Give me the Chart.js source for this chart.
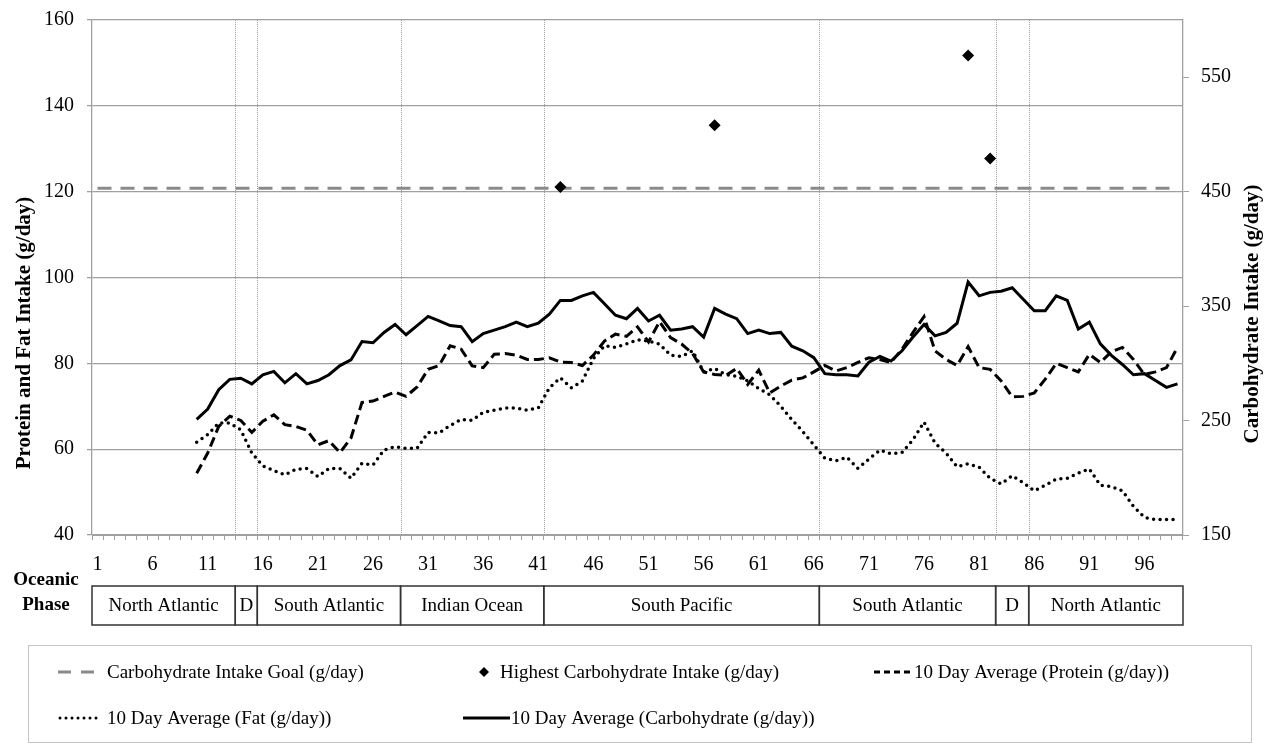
<!DOCTYPE html>
<html>
<head>
<meta charset="utf-8">
<title>Intake by oceanic phase</title>
<script src="https://cdn.jsdelivr.net/npm/chart.js@4.4.1/dist/chart.umd.min.js"></script>
<style>
  html, body { margin: 0; padding: 0; background: #fff; }
  #box { width: 1264px; height: 744px; }
</style>
</head>
<body>
<div id="box"><canvas id="intakeChart" width="1264" height="744"></canvas></div>
<script>
// ---------------- Data ----------------
const days = [
    1, 2, 3, 4, 5, 6, 7, 8, 9, 10, 11, 12, 13, 14, 15, 16, 17, 18, 19, 20,
    21, 22, 23, 24, 25, 26, 27, 28, 29, 30, 31, 32, 33, 34, 35, 36, 37, 38, 39, 40,
    41, 42, 43, 44, 45, 46, 47, 48, 49, 50, 51, 52, 53, 54, 55, 56, 57, 58, 59, 60,
    61, 62, 63, 64, 65, 66, 67, 68, 69, 70, 71, 72, 73, 74, 75, 76, 77, 78, 79, 80,
    81, 82, 83, 84, 85, 86, 87, 88, 89, 90, 91, 92, 93, 94, 95, 96, 97, 98, 99
];
const dayTickLabels = [1, 6, 11, 16, 21, 26, 31, 36, 41, 46, 51, 56, 61, 66, 71, 76, 81, 86, 91, 96];
const carbTicks = [150, 250, 350, 450, 550];

// 10 day averages, g/day (first nine days have no average yet)
const proteinAvg = [
    null, null, null, null, null, null, null, null, null,
    54.4, 59.1, 65.3, 67.7, 66.7, 63.9, 66.5, 68.0, 65.7, 65.3,
    64.4, 61.0, 62.0, 59.2, 62.6, 70.9, 71.2, 72.3, 73.3, 72.3,
    74.5, 78.6, 79.5, 84.1, 83.3, 79.4, 79.0, 82.1, 82.3, 81.9,
    80.9, 80.9, 81.3, 80.3, 80.2, 79.5, 81.9, 85.2, 86.8, 86.3,
    88.5, 85.0, 89.7, 86.0, 84.5, 82.3, 78.0, 77.4, 77.2, 78.8,
    75.1, 78.4, 73.1, 74.7, 76.1, 76.6, 78.0, 79.5, 78.2, 79.0,
    80.2, 81.3, 80.9, 80.2, 83.3, 87.2, 90.9, 82.9, 80.9, 79.5,
    83.9, 79.0, 78.6, 75.9, 72.2, 72.3, 73.1, 76.3, 80.0, 79.0,
    78.0, 82.1, 80.2, 82.7, 83.7, 80.9, 77.4, 78.0, 79.0, 83.7
];
const fatAvg = [
    null, null, null, null, null, null, null, null, null,
    61.6, 63.4, 66.1, 66.1, 64.5, 59.1, 56.1, 55.0, 54.0, 55.3,
    55.5, 53.6, 55.5, 55.5, 53.2, 56.7, 56.3, 59.8, 60.6, 60.2,
    60.2, 63.9, 63.8, 65.5, 66.9, 66.7, 68.6, 69.1, 69.6, 69.6,
    69.1, 69.6, 74.3, 76.6, 74.3, 75.9, 81.1, 84.1, 83.7, 84.5,
    85.5, 85.2, 84.5, 81.9, 81.6, 82.9, 78.0, 78.8, 77.4, 77.0,
    75.9, 74.1, 72.7, 70.0, 66.9, 64.1, 61.0, 57.9, 57.3, 58.1,
    55.5, 57.7, 59.8, 58.9, 59.2, 62.2, 66.3, 61.4, 59.1, 55.9,
    56.6, 55.8, 53.2, 51.9, 53.8, 52.2, 50.3, 51.6, 53.0, 53.2,
    54.4, 55.4, 51.6, 51.3, 50.3, 46.7, 44.1, 43.6, 43.6, 43.6
];
const carbAvg = [
    null, null, null, null, null, null, null, null, null,
    251, 260, 277, 286, 287, 282, 290, 293, 283, 291,
    282, 285, 290, 298, 303, 319, 318, 327, 334, 325,
    333, 341, 337, 333, 332, 319, 326, 329, 332, 336,
    332, 335, 343, 355, 355, 359, 362, 352, 342, 339,
    348, 337, 342, 329, 330, 332, 323, 348, 343, 339,
    326, 329, 326, 327, 315, 311, 305, 291, 290, 290,
    289, 301, 306, 302, 311, 323, 334, 324, 327, 335,
    371, 359, 362, 363, 366, 356, 346, 346, 359, 355,
    330, 336, 317, 307, 299, 290, 291, 285, 279, 282
];

const carbGoal = 453;
const highestDays = [43, 57, 80, 82];
const highestCarb = [454, 508, 569, 479];

const phaseNames = ["North Atlantic", "D", "South Atlantic", "Indian Ocean", "South Pacific", "South Atlantic", "D", "North Atlantic"];
const phaseStartDays = [1, 14, 16, 29, 42, 67, 83, 86];
const lastDay = 99;

// ---------------- Styles ----------------
const FONT = '"Liberation Serif", "Times New Roman", serif';
const GRID = "#a0a0a0";

Chart.defaults.font.family = FONT;
Chart.defaults.color = "#000";

const goalData = days.map(() => carbGoal);
const highestData = days.map(d => {
    const k = highestDays.indexOf(d);
    return k === -1 ? null : highestCarb[k];
});

// sample strokes for the legend box, same look as the lines
function drawSample(ctx, kind, x0, x1, y) {
    ctx.save();
    ctx.beginPath();
    if (kind === "diamond") {
        const r = 5;
        ctx.fillStyle = "#000";
        ctx.moveTo(x0, y - r); ctx.lineTo(x0 + r, y); ctx.lineTo(x0, y + r); ctx.lineTo(x0 - r, y);
        ctx.closePath();
        ctx.fill();
        ctx.restore();
        return;
    }
    if (kind === "goal") { ctx.strokeStyle = "#8a8a8a"; ctx.lineWidth = 3; ctx.setLineDash([13, 10]); }
    if (kind === "protein") { ctx.strokeStyle = "#000"; ctx.lineWidth = 3; ctx.setLineDash([6, 4]); }
    if (kind === "fat") { ctx.strokeStyle = "#000"; ctx.lineWidth = 3; ctx.lineCap = "round"; ctx.setLineDash([0, 6]); }
    if (kind === "carb") { ctx.strokeStyle = "#000"; ctx.lineWidth = 3; }
    ctx.moveTo(x0, y);
    ctx.lineTo(x1, y);
    ctx.stroke();
    ctx.restore();
}

const legendItems = [
    { kind: "goal", text: "Carbohydrate Intake Goal (g/day)", x0: 58, x1: 95, tx: 107, y: 672 },
    { kind: "diamond", text: "Highest Carbohydrate Intake (g/day)", x0: 484, x1: 484, tx: 500, y: 672 },
    { kind: "protein", text: "10 Day Average (Protein (g/day))", x0: 874, x1: 912, tx: 914, y: 672 },
    { kind: "fat", text: "10 Day Average (Fat (g/day))", x0: 60, x1: 102, tx: 107, y: 718 },
    { kind: "carb", text: "10 Day Average (Carbohydrate (g/day))", x0: 463, x1: 510, tx: 511, y: 718 }
];

const phasePlugin = {
    id: "phasePlugin",
    beforeDatasetsDraw(chart) {
        const { ctx, chartArea, scales: { x } } = chart;
        ctx.save();
        ctx.strokeStyle = "#a0a0a0";
        ctx.lineWidth = 1;
        ctx.setLineDash([1, 1]);
        phaseStartDays.slice(1).forEach(d => {
            const px = Math.round(x.getPixelForValue(d - 1.5)) + 0.5;
            ctx.beginPath();
            ctx.moveTo(px, chartArea.top);
            ctx.lineTo(px, chartArea.bottom);
            ctx.stroke();
        });
        ctx.restore();
    },
    afterDraw(chart) {
        const { ctx, scales: { x } } = chart;

        // axis titles
        ctx.save();
        ctx.fillStyle = "#000";
        ctx.font = "bold 21px " + FONT;
        ctx.textAlign = "center";
        ctx.textBaseline = "middle";
        ctx.translate(25, 333);
        ctx.rotate(-Math.PI / 2);
        ctx.fillText("Protein and Fat Intake (g/day)", 0, 0);
        ctx.restore();

        ctx.save();
        ctx.fillStyle = "#000";
        ctx.font = "bold 21px " + FONT;
        ctx.textAlign = "center";
        ctx.textBaseline = "middle";
        ctx.translate(1253, 314);
        ctx.rotate(-Math.PI / 2);
        ctx.fillText("Carbohydrate Intake (g/day)", 0, 0);
        ctx.restore();

        // oceanic phase table
        const tTop = 586, tBot = 625;
        ctx.save();
        ctx.fillStyle = "#000";
        ctx.font = "bold 19px " + FONT;
        ctx.textAlign = "center";
        ctx.textBaseline = "middle";
        ctx.fillText("Oceanic", 46, 580);
        ctx.fillText("Phase", 46, 605);

        ctx.font = "19px " + FONT;
        ctx.strokeStyle = "#333";
        ctx.lineWidth = 1.5;
        phaseNames.forEach((name, i) => {
            const start = phaseStartDays[i];
            const end = i < phaseStartDays.length - 1 ? phaseStartDays[i + 1] - 1 : lastDay;
            const x0 = x.getPixelForValue(start - 1.5);
            const x1 = x.getPixelForValue(end - 0.5);
            ctx.strokeRect(x0, tTop, x1 - x0, tBot - tTop);
            ctx.fillText(name, (x0 + x1) / 2, (tTop + tBot) / 2 + 1);
        });
        ctx.restore();

        // legend box
        ctx.save();
        ctx.strokeStyle = "#c4c4c4";
        ctx.lineWidth = 1;
        ctx.strokeRect(28.5, 645.5, 1223, 97);
        ctx.fillStyle = "#000";
        ctx.font = "19px " + FONT;
        ctx.textAlign = "left";
        ctx.textBaseline = "middle";
        legendItems.forEach(item => {
            drawSample(ctx, item.kind, item.x0, item.x1, item.y);
            ctx.fillText(item.text, item.tx, item.y + 1);
        });
        ctx.restore();
    }
};

// ---------------- Chart ----------------
const ctx = document.getElementById("intakeChart").getContext("2d");

function fixWidth(w) {
    return s => {
        s.width = w;
        s.paddingTop = 0;
        s.paddingBottom = 0;
    };
}

new Chart(ctx, {
    type: "line",
    data: {
        labels: days,
        datasets: [
            {
                label: "Highest Carbohydrate Intake (g/day)",
                data: highestData,
                yAxisID: "y1",
                showLine: false,
                pointStyle: "rectRot",
                pointRadius: 6,
                pointBackgroundColor: "#000",
                pointBorderColor: "#000",
                pointBorderWidth: 0
            },
            {
                label: "10 Day Average (Carbohydrate (g/day))",
                data: carbAvg,
                yAxisID: "y1",
                borderColor: "#000",
                borderWidth: 3,
                pointRadius: 0,
                borderJoinStyle: "miter"
            },
            {
                label: "10 Day Average (Protein (g/day))",
                data: proteinAvg,
                yAxisID: "y",
                borderColor: "#000",
                borderWidth: 3,
                borderDash: [10, 5],
                pointRadius: 0
            },
            {
                label: "10 Day Average (Fat (g/day))",
                data: fatAvg,
                yAxisID: "y",
                borderColor: "#000",
                borderWidth: 3.5,
                borderDash: [0, 6.5],
                borderCapStyle: "round",
                pointRadius: 0
            },
            {
                label: "Carbohydrate Intake Goal (g/day)",
                data: goalData,
                yAxisID: "y1",
                borderColor: "#8a8a8a",
                borderWidth: 3,
                borderDash: [14, 9],
                pointRadius: 0
            }
        ]
    },
    options: {
        responsive: false,
        animation: false,
        events: [],
        layout: { padding: { top: 20, left: 0, right: 0, bottom: 0 } },
        plugins: {
            legend: { display: false },
            tooltip: { enabled: false }
        },
        scales: {
            x: {
                offset: true,
                afterFit: s => { s.height = 209; },
                grid: {
                    offset: true,
                    drawOnChartArea: false,
                    drawTicks: true,
                    tickLength: 5,
                    color: GRID
                },
                border: { display: true, color: GRID, width: 1 },
                ticks: {
                    autoSkip: false,
                    maxRotation: 0,
                    padding: 13,
                    font: { size: 20 },
                    callback: function (value, i) {
                        const d = days[i];
                        return dayTickLabels.includes(d) ? String(d) : "";
                    }
                }
            },
            y: {
                position: "left",
                min: 40,
                max: 160,
                afterFit: fixWidth(92),
                grid: { color: GRID, lineWidth: 1.3, tickLength: 5 },
                border: { display: true, color: GRID, width: 1.3 },
                ticks: { stepSize: 20, padding: 13, font: { size: 20 } }
            },
            y1: {
                position: "right",
                min: 150,
                max: 600,
                afterFit: fixWidth(81),
                afterBuildTicks: s => { s.ticks = carbTicks.map(v => ({ value: v })); },
                grid: { drawOnChartArea: false, color: GRID, tickLength: 6 },
                border: { display: true, color: GRID, width: 1.3 },
                ticks: { padding: 12, font: { size: 20 } }
            }
        }
    },
    plugins: [phasePlugin]
});
</script>
</body>
</html>
